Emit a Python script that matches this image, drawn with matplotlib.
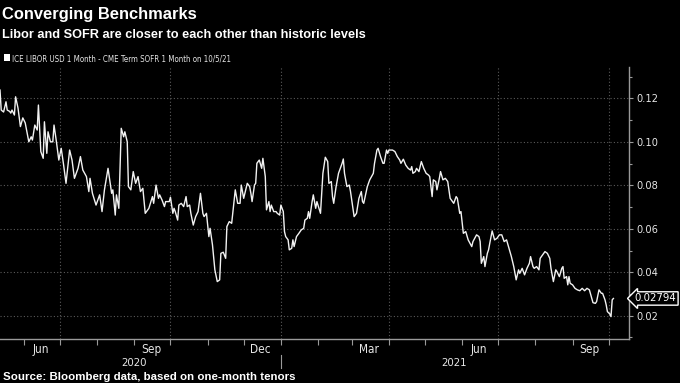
import matplotlib
matplotlib.use('Agg')
import matplotlib.pyplot as plt
import matplotlib.dates as mdates
import matplotlib.transforms as mtransforms
from matplotlib import font_manager
from matplotlib.font_manager import FontProperties
import pandas as pd

# data (LIBOR 1M minus CME Term SOFR 1M, percentage points)
START = '2020-05-12'
day_offsets = [
    0, 1, 3, 5, 6, 8, 9, 10, 12, 13, 15, 17, 19, 21, 24, 26, 27, 29, 31, 32,
    34, 36, 37, 39, 40, 42, 44, 45, 47, 49, 51, 53, 55, 58, 60, 62, 65, 67, 69, 72,
    74, 75, 77, 80, 83, 85, 87, 90, 93, 94, 96, 97, 99, 101, 103, 104, 106, 107, 109, 111,
    113, 115, 117, 119, 121, 124, 127, 128, 130, 132, 133, 135, 137, 138, 141, 142, 144, 145, 146, 148,
    149, 151, 153, 155, 156, 158, 159, 161, 163, 165, 167, 169, 170, 172, 174, 175, 177, 179, 181, 183,
    184, 186, 188, 189, 191, 193, 196, 198, 200, 201, 203, 206, 208, 209, 210, 212, 213, 214, 216, 218,
    219, 221, 222, 224, 225, 226, 228, 230, 231, 233, 234, 236, 237, 238, 240, 241, 243, 244, 245, 247,
    249, 251, 253, 254, 256, 257, 258, 260, 261, 263, 264, 267, 269, 271, 273, 274, 276, 277, 278, 280,
    282, 285, 286, 287, 289, 291, 292, 295, 297, 299, 301, 302, 303, 306, 308, 311, 312, 314, 315, 317,
    319, 320, 322, 323, 324, 327, 329, 331, 333, 334, 336, 338, 340, 342, 343, 344, 346, 347, 349, 351,
    353, 355, 357, 358, 360, 361, 363, 364, 366, 367, 369, 371, 373, 375, 378, 380, 381, 383, 384, 386,
    388, 390, 393, 394, 397, 399, 400, 401, 403, 404, 406, 407, 408, 410, 412, 414, 416, 418, 420, 422,
    424, 426, 428, 430, 432, 433, 435, 437, 439, 441, 442, 444, 445, 447, 449, 450, 451, 454, 456, 458,
    459, 461, 463, 464, 466, 468, 469, 470, 472, 473, 474, 475, 477, 479, 481, 483, 485, 487, 489, 491,
    493, 494, 496, 497, 499, 501, 502, 504, 505, 506, 508, 509, 510, 511,
]
spread = [
    0.1238, 0.1146, 0.1137, 0.1184, 0.1146, 0.1140, 0.1132, 0.1146, 0.1123, 0.1207,
    0.1155, 0.1070, 0.1110, 0.1087, 0.1000, 0.1023, 0.1008, 0.1077, 0.1054, 0.1169,
    0.0955, 0.0924, 0.1092, 0.0947, 0.1046, 0.1000, 0.1000, 0.1077, 0.1000, 0.0916,
    0.0970, 0.0893, 0.0809, 0.0962, 0.0916, 0.0832, 0.0878, 0.0932, 0.0870, 0.0840,
    0.0771, 0.0832, 0.0763, 0.0709, 0.0756, 0.0679, 0.0779, 0.0878, 0.0763, 0.0779,
    0.0663, 0.0756, 0.0694, 0.1062, 0.1023, 0.1046, 0.1000, 0.0794, 0.0779, 0.0863,
    0.0809, 0.0840, 0.0771, 0.0786, 0.0671, 0.0694, 0.0748, 0.0717, 0.0801, 0.0740,
    0.0756, 0.0732, 0.0702, 0.0725, 0.0725, 0.0745, 0.0671, 0.0694, 0.0679, 0.0640,
    0.0709, 0.0717, 0.0702, 0.0748, 0.0702, 0.0709, 0.0671, 0.0617, 0.0656, 0.0679,
    0.0763, 0.0671, 0.0656, 0.0671, 0.0564, 0.0602, 0.0526, 0.0411, 0.0357, 0.0365,
    0.0487, 0.0492, 0.0464, 0.0610, 0.0633, 0.0625, 0.0779, 0.0717, 0.0717, 0.0801,
    0.0740, 0.0809, 0.0794, 0.0763, 0.0725, 0.0801, 0.0809, 0.0901, 0.0916, 0.0878,
    0.0924, 0.0840, 0.0687, 0.0725, 0.0679, 0.0709, 0.0679, 0.0679, 0.0671, 0.0663,
    0.0709, 0.0679, 0.0587, 0.0564, 0.0549, 0.0503, 0.0510, 0.0549, 0.0518, 0.0564,
    0.0579, 0.0595, 0.0602, 0.0640, 0.0648, 0.0679, 0.0648, 0.0725, 0.0756, 0.0694,
    0.0725, 0.0671, 0.0855, 0.0929, 0.0909, 0.0809, 0.0817, 0.0748, 0.0717, 0.0794,
    0.0855, 0.0901, 0.0921, 0.0855, 0.0794, 0.0801, 0.0771, 0.0656, 0.0671, 0.0740,
    0.0771, 0.0725, 0.0717, 0.0794, 0.0825, 0.0855, 0.0901, 0.0962, 0.0970, 0.0932,
    0.0901, 0.0901, 0.0962, 0.0947, 0.0962, 0.0962, 0.0955, 0.0932, 0.0916, 0.0901,
    0.0920, 0.0893, 0.0878, 0.0870, 0.0886, 0.0855, 0.0863, 0.0878, 0.0863, 0.0909,
    0.0878, 0.0855, 0.0847, 0.0840, 0.0748, 0.0825, 0.0817, 0.0779, 0.0832, 0.0863,
    0.0825, 0.0832, 0.0817, 0.0740, 0.0717, 0.0748, 0.0740, 0.0671, 0.0679, 0.0579,
    0.0587, 0.0549, 0.0518, 0.0541, 0.0572, 0.0564, 0.0541, 0.0441, 0.0472, 0.0426,
    0.0487, 0.0503, 0.0533, 0.0590, 0.0549, 0.0556, 0.0572, 0.0572, 0.0541, 0.0549,
    0.0510, 0.0472, 0.0426, 0.0365, 0.0411, 0.0395, 0.0418, 0.0388, 0.0418, 0.0441,
    0.0472, 0.0426, 0.0418, 0.0426, 0.0411, 0.0464, 0.0472, 0.0495, 0.0487, 0.0464,
    0.0418, 0.0357, 0.0411, 0.0403, 0.0380, 0.0418, 0.0426, 0.0372, 0.0380, 0.0342,
    0.0380, 0.0349, 0.0342, 0.0326, 0.0319, 0.0315, 0.0326, 0.0315, 0.0326, 0.0319,
    0.0280, 0.0260, 0.0257, 0.0265, 0.0319, 0.0303, 0.0303, 0.0273, 0.0250, 0.0219,
    0.0208, 0.0196, 0.0273, 0.02794,
]
last_value = 0.02794

title = 'Converging Benchmarks'
subtitle = 'Libor and SOFR are closer to each other than historic levels'
series_name = 'ICE LIBOR USD 1 Month - CME Term SOFR 1 Month on 10/5/21'
source = 'Source: Bloomberg data, based on one-month tenors'
y_ticks = [0.02, 0.04, 0.06, 0.08, 0.10, 0.12]
years = ['2020', '2021']
year_centers = ['2020-09-01', '2021-05-25']
year_break = '2021-01-01'

TEXT = '#e6e6e6'
AXIS = '#9a9a9a'
GRID = '#5a5a5a'


def find_narrow():
    # a condensed sans face for the Bloomberg-like small labels
    fl = font_manager.fontManager.ttflist
    regular = [f for f in fl if f.style == 'normal' and f.weight in (400, 'normal', 'regular', 'book')]
    for f in regular:
        if f.name == 'Liberation Sans Narrow':
            return FontProperties(fname=f.fname)
    for fam in ['Noto Sans', 'DejaVu Sans', 'Open Sans', 'Roboto', 'Lato', 'Inter']:
        hits = [f for f in regular if f.name.startswith(fam) and 'Mono' not in f.name
                and (f.stretch == 'condensed' or 'ondensed' in f.name)]
        hits.sort(key=lambda f: ('Extra' in f.fname or 'Ultra' in f.fname, 'Semi' in f.fname))
        if hits:
            return FontProperties(fname=hits[0].fname)
    return FontProperties(family='Liberation Sans')


NARROW = find_narrow()
BOLD = FontProperties(family=['Liberation Sans', 'DejaVu Sans'], weight='bold')

fig = plt.figure(figsize=(6.8, 3.83), dpi=100, facecolor='black')
renderer = fig.canvas.get_renderer()


def size_for(s, props, width_px):
    # font size (pt) that makes string s about width_px wide
    t = fig.text(0, 0, s, fontproperties=props, fontsize=10)
    w = t.get_window_extent(renderer).width
    t.remove()
    return 10 * width_px / w


tick_size = size_for('0.12', NARROW, 22)
month_size = size_for('Sep', NARROW, 20)
year_size = size_for('2020', NARROW, 26)
tag_size = size_for('0.02794', NARROW, 42)
legend_size = size_for(series_name, NARROW, 220)
title_size = size_for(title, BOLD, 196)
subtitle_size = size_for(subtitle, BOLD, 365)
source_size = size_for(source, BOLD, 290)

dates = pd.Timestamp(START) + pd.to_timedelta(day_offsets, unit='D')

ax = fig.add_axes([0, 44 / 383, 629 / 680, 272 / 383], facecolor='black')
ax.plot(dates, spread, color='#f2f2f2', lw=1.0, solid_joinstyle='round')

ax.set_xlim(pd.Timestamp(START), pd.Timestamp('2021-10-18'))
ax.set_ylim(0.0093, 0.1344)

for side in ['top', 'left']:
    ax.spines[side].set_visible(False)
for side in ['right', 'bottom']:
    ax.spines[side].set_color(AXIS)
    ax.spines[side].set_linewidth(1.0)

# y axis on the right
ax.yaxis.tick_right()
ax.set_yticks(y_ticks)
ax.yaxis.set_minor_locator(plt.MultipleLocator(0.01))
ax.yaxis.set_major_formatter(plt.FuncFormatter(lambda v, p: '{:.2f}'.format(v)))
ax.tick_params(axis='y', which='major', length=3, width=0.8, color=AXIS,
               labelcolor=TEXT, pad=2)
ax.tick_params(axis='y', which='minor', length=2, width=0.8, color=AXIS)

# x axis: ticks at month starts, labels mid-month of Mar/Jun/Sep/Dec
ax.xaxis.set_major_locator(mdates.MonthLocator())
ax.xaxis.set_major_formatter(plt.NullFormatter())
ax.xaxis.set_minor_locator(mdates.MonthLocator(bymonth=[3, 6, 9, 12], bymonthday=15))
ax.xaxis.set_minor_formatter(mdates.DateFormatter('%b'))
ax.tick_params(axis='x', which='major', length=4, width=0.8, color=AXIS)
ax.tick_params(axis='x', which='minor', length=0, labelcolor=TEXT, pad=3)

for lab in ax.get_yticklabels():
    lab.set_fontproperties(NARROW)
    lab.set_fontsize(tick_size)
for lab in ax.get_xticklabels(minor=True):
    lab.set_fontproperties(NARROW)
    lab.set_fontsize(month_size)

# dotted grid: horizontal at y ticks, vertical at quarter starts
ax.grid(True, 'major', 'y', ls=(0, (1, 2)), lw=0.8, color=GRID)
for q in pd.date_range('2020-07-01', '2021-10-01', freq='QS'):
    ax.axvline(q, ls=(0, (1, 2)), lw=0.8, color=GRID, zorder=0)

# year labels and separator
trans = mtransforms.blended_transform_factory(ax.transData, ax.transAxes)
for yr, c in zip(years, year_centers):
    ax.text(pd.Timestamp(c), -0.09, yr, transform=trans, ha='center', va='center',
            color=TEXT, fontproperties=NARROW, fontsize=year_size)
ax.plot([pd.Timestamp(year_break)] * 2, [-0.058, -0.107], transform=trans,
        color=AXIS, lw=0.8, clip_on=False)

# last value tag
vtrans = mtransforms.blended_transform_factory(ax.transAxes, ax.transData)
ax.text(1.009, last_value, '{:.5f}'.format(last_value), transform=vtrans,
        ha='left', va='center', color='white', fontproperties=NARROW, fontsize=tag_size,
        bbox=dict(boxstyle='larrow,pad=0.15', fc='black', ec='white', lw=1.0))

# titles, legend, source
fig.text(1.5 / 680, 1 - 19.5 / 383, title, color='white', fontproperties=BOLD,
         fontsize=title_size, va='baseline')
fig.text(1.5 / 680, 1 - 37.5 / 383, subtitle, color='white', fontproperties=BOLD,
         fontsize=subtitle_size, va='baseline')
fig.patches.append(plt.Rectangle((4 / 680, 1 - 61 / 383), 6 / 680, 7 / 383,
                                 transform=fig.transFigure, fc='white', ec='none'))
fig.text(12 / 680, 1 - 61 / 383, series_name, color=TEXT, fontproperties=NARROW,
         fontsize=legend_size, va='baseline')
fig.text(3 / 680, 1 - 380.5 / 383, source, color='white', fontproperties=BOLD,
         fontsize=source_size, va='baseline')

fig.savefig('out.png', dpi=100, facecolor='black')
